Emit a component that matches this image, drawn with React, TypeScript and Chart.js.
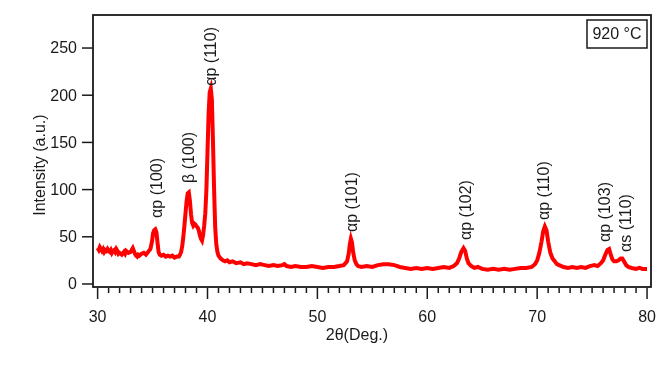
import React, { useEffect, useRef } from 'react';
import { Chart, registerables } from 'chart.js';

Chart.register(...registerables);

// ---- data ----
const twoTheta = [
  30.0, 30.1, 30.2, 30.3, 30.4, 30.5, 30.6, 30.7, 30.8, 30.9,
  31.0, 31.1, 31.2, 31.3, 31.4, 31.5, 31.6, 31.7, 31.8, 31.9,
  32.0, 32.2, 32.4, 32.5, 32.6, 32.8, 33.0, 33.1, 33.2, 33.3,
  33.4, 33.5, 33.6, 33.7, 33.8, 34.0, 34.2, 34.4, 34.6, 34.8,
  34.95, 35.05, 35.15, 35.25, 35.35, 35.45, 35.55, 35.65, 35.8, 36.0,
  36.2, 36.4, 36.6, 36.8, 37.0, 37.2, 37.4, 37.5, 37.6, 37.7,
  37.8, 37.9, 38.0, 38.1, 38.2, 38.3, 38.4, 38.5, 38.6, 38.7,
  38.8, 38.9, 39.0, 39.1, 39.2, 39.3, 39.4, 39.5, 39.6, 39.7,
  39.8, 39.9, 40.0, 40.1, 40.2, 40.3, 40.4, 40.5, 40.6, 40.7,
  40.8, 40.9, 41.0, 41.2, 41.4, 41.6, 41.8, 42.0, 42.3, 42.6,
  43.0, 43.3, 43.6, 44.0, 44.4, 44.8, 45.2, 45.6, 46.0, 46.4,
  46.8, 47.0, 47.2, 47.6, 48.0, 48.5, 49.0, 49.5, 50.0, 50.5,
  51.0, 51.5, 52.0, 52.4, 52.7, 52.85, 52.95, 53.05, 53.15, 53.25,
  53.4, 53.55, 53.7, 54.0, 54.5, 55.0, 55.5, 56.0, 56.5, 57.0,
  57.5, 58.0, 58.5, 59.0, 59.5, 60.0, 60.5, 61.0, 61.5, 62.0,
  62.4, 62.7, 62.9, 63.1, 63.3, 63.45, 63.6, 63.75, 64.0, 64.3,
  64.6, 65.0, 65.5, 66.0, 66.5, 67.0, 67.5, 68.0, 68.5, 69.0,
  69.5, 69.8, 70.0, 70.2, 70.4, 70.55, 70.7, 70.85, 71.0, 71.2,
  71.4, 71.6, 71.8, 72.0, 72.4, 72.8, 73.2, 73.6, 74.0, 74.4,
  74.8, 75.2, 75.5, 75.8, 76.0, 76.2, 76.4, 76.55, 76.7, 76.85,
  77.0, 77.2, 77.4, 77.6, 77.75, 77.9, 78.1, 78.3, 78.6, 79.0,
  79.3, 79.6, 80.0,
];
const intensity = [
  38, 36, 39, 37, 35, 37, 34, 36, 35, 37,
  35, 34, 36, 33, 35, 36, 34, 37, 35, 32,
  33, 31, 34, 32, 35, 33, 34, 36, 38, 35,
  32, 30, 29, 31, 30, 32, 33, 31, 34, 37,
  45, 54, 57, 58, 55, 44, 34, 31, 30, 31,
  29, 30, 29, 30, 28, 29, 29, 31, 34, 40,
  50, 62, 75, 88, 96, 97, 88, 74, 65, 62,
  64, 63, 61, 60, 57, 52, 48, 46, 52, 62,
  75, 100, 140, 180, 203, 207, 195, 150, 100, 60,
  42, 34, 30, 27, 25, 24, 25, 23, 24, 22,
  23, 21, 22, 21, 20, 21, 20, 19, 20, 19,
  20, 21, 19, 18, 19, 18, 18, 19, 18, 17,
  18, 18, 19, 20, 24, 32, 42, 48, 44, 34,
  25, 21, 19, 18, 19, 18, 20, 21, 21, 20,
  18, 17, 16, 17, 16, 17, 16, 17, 18, 17,
  19, 22, 27, 34, 38, 35, 27, 22, 19, 17,
  18, 16, 15, 16, 15, 16, 15, 16, 17, 17,
  18, 21, 25, 33, 45, 56, 61, 57, 45, 33,
  27, 24, 21, 20, 18, 17, 18, 17, 18, 17,
  19, 20, 19, 22, 25, 31, 36, 37, 31, 26,
  24, 24, 25, 27, 27, 24, 20, 18, 17, 16,
  17, 16, 16,
];

const yTicks = [0, 50, 100, 150, 200, 250];
const xMajorTicks = [30, 40, 50, 60, 70, 80];
const xMinorTicks = [
  31, 32, 33, 34, 35, 36, 37, 38, 39, 41, 42, 43, 44, 45, 46, 47, 48, 49,
  51, 52, 53, 54, 55, 56, 57, 58, 59, 61, 62, 63, 64, 65, 66, 67, 68, 69,
  71, 72, 73, 74, 75, 76, 77, 78, 79,
];

const peakLabels = ['αp (100)', 'β (100)', 'αp (110)', 'αp (101)', 'αp (102)', 'αp (110)', 'αp (103)', 'αs (110)'];
const peakLabelX = [35.5, 38.35, 40.35, 53.2, 63.6, 70.72, 76.27, 78.16];
const peakLabelY = [70, 107, 210, 55, 46.6, 67.8, 44.5, 33.9];

const xTitle = '2θ(Deg.)';
const yTitle = 'Intensity (a.u.)';
const legendText = '920 °C';

const FONT = "'Liberation Sans', Arial, sans-serif";
const INK = '#1a1a1a';

const decorPlugin = {
  id: 'decor',
  afterDraw(chart: any) {
    const { ctx, chartArea, scales } = chart;
    const xs = scales.x;
    const ys = scales.y;
    ctx.save();
    ctx.strokeStyle = INK;
    ctx.fillStyle = INK;
    ctx.lineWidth = 1.8;
    // frame
    ctx.strokeRect(chartArea.left, chartArea.top, chartArea.right - chartArea.left, chartArea.bottom - chartArea.top);

    // y ticks
    ctx.lineWidth = 1.5;
    ctx.font = `16px ${FONT}`;
    ctx.textAlign = 'right';
    ctx.textBaseline = 'middle';
    yTicks.forEach((v) => {
      const py = ys.getPixelForValue(v);
      ctx.beginPath();
      ctx.moveTo(chartArea.left - 11, py);
      ctx.lineTo(chartArea.left, py);
      ctx.stroke();
      ctx.fillText(String(v), chartArea.left - 16, py + 1);
    });

    // x ticks
    const base = chartArea.bottom + 1;
    xMajorTicks.forEach((v) => {
      const px = xs.getPixelForValue(v);
      ctx.beginPath();
      ctx.moveTo(px, base);
      ctx.lineTo(px, base + 11);
      ctx.stroke();
    });
    xMinorTicks.forEach((v) => {
      const px = xs.getPixelForValue(v);
      ctx.beginPath();
      ctx.moveTo(px, base);
      ctx.lineTo(px, base + 5);
      ctx.stroke();
    });
    ctx.textAlign = 'center';
    ctx.textBaseline = 'middle';
    xMajorTicks.forEach((v) => {
      const px = xs.getPixelForValue(v);
      ctx.fillText(String(v), px, base + 30);
    });

    // axis titles
    ctx.fillText(xTitle, xs.getPixelForValue(53.6), base + 48);
    ctx.save();
    ctx.translate(chartArea.left - 52, ys.getPixelForValue(126));
    ctx.rotate(-Math.PI / 2);
    ctx.fillText(yTitle, 0, 0);
    ctx.restore();

    // peak labels
    ctx.textAlign = 'left';
    ctx.textBaseline = 'middle';
    peakLabels.forEach((t, i) => {
      ctx.save();
      ctx.translate(xs.getPixelForValue(peakLabelX[i]), ys.getPixelForValue(peakLabelY[i]));
      ctx.rotate(-Math.PI / 2);
      ctx.fillText(t, 0, 0);
      ctx.restore();
    });

    // legend box
    const bx = chartArea.right - 64;
    const by = chartArea.top + 5;
    ctx.fillStyle = '#ffffff';
    ctx.fillRect(bx, by, 60, 28);
    ctx.lineWidth = 1.5;
    ctx.strokeRect(bx, by, 60, 28);
    ctx.fillStyle = INK;
    ctx.textAlign = 'center';
    ctx.fillText(legendText, bx + 30, by + 15);
    ctx.restore();
  },
};

export default function App() {
  const ref = useRef<HTMLCanvasElement | null>(null);
  useEffect(() => {
    if (!ref.current) return;
    const points = twoTheta.map((x, i) => ({ x, y: intensity[i] }));
    const chart = new Chart(ref.current, {
      type: 'line',
      data: {
        datasets: [
          {
            data: points,
            borderColor: 'rgb(255,0,0)',
            borderWidth: 4,
            pointRadius: 0,
            tension: 0,
            fill: false,
          },
        ],
      },
      options: {
        animation: false,
        responsive: false,
        devicePixelRatio: 1,
        layout: { padding: { left: 93, right: 21, top: 15, bottom: 83 } },
        plugins: { legend: { display: false }, tooltip: { enabled: false } },
        scales: {
          x: { type: 'linear', min: 29.58, max: 80.36, display: false },
          y: { type: 'linear', min: -3.2, max: 285, display: false },
        },
      },
      plugins: [decorPlugin],
    });
    return () => chart.destroy();
  }, []);
  return (
    <div style={{ position: 'absolute', left: 0, top: 0, width: 672, height: 370, background: '#fff' }}>
      <canvas ref={ref} width={672} height={370} />
    </div>
  );
}
